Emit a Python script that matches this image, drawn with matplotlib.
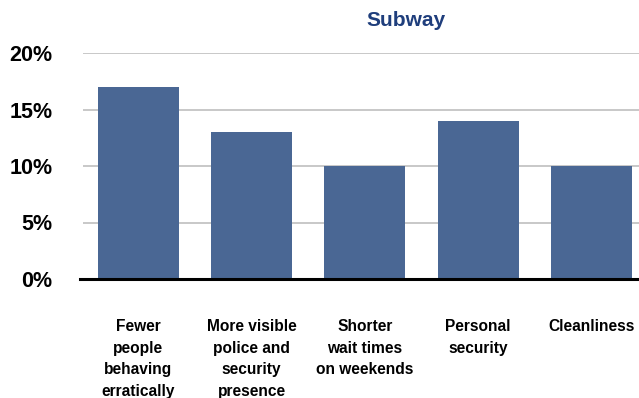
import matplotlib.pyplot as plt

categories = [
    "Fewer\npeople\nbehaving\nerratically",
    "More visible\npolice and\nsecurity\npresence",
    "Shorter\nwait times\non weekends",
    "Personal\nsecurity",
    "Cleanliness",
]
values = [17, 13, 10, 14, 10]
yticks = [0, 5, 10, 15, 20]
ytick_labels = ["0%", "5%", "10%", "15%", "20%"]

plt.rcParams["font.family"] = ["Liberation Sans", "DejaVu Sans"]

fig = plt.figure(figsize=(6.39, 3.98), dpi=100)
ax = fig.add_axes([83 / 639, 1 - 279 / 398, (639 - 83) / 639, (279 - 53) / 398])

x = range(len(values))
ax.bar(x, values, width=0.715, color="#4A6794", zorder=2)

ax.set_xlim(-0.49, 4.42)
ax.set_ylim(0, 20)
ax.set_yticks(yticks)
ax.set_yticklabels(ytick_labels, fontsize=15.5, fontweight="bold")
ax.set_xticks(list(x))
ax.set_xticklabels(categories, fontsize=11.2, fontweight="bold", linespacing=1.55, va="top")
ax.tick_params(axis="y", length=0, pad=22)
ax.tick_params(axis="x", length=0, pad=29)

ax.grid(axis="y", color="#c8c8c8", linewidth=1.4, zorder=0)
ax.set_axisbelow(True)
for side in ["top", "right", "left", "bottom"]:
    ax.spines[side].set_visible(False)
ax.axhline(0, xmin=-0.006, xmax=1, color="black", linewidth=2.2, zorder=3, clip_on=False)

fig.text(406 / 639, 1 - 20 / 398, "Subway", ha="center", va="center",
         fontsize=15, fontweight="bold", color="#1F3E7C")

fig.savefig("out.png", dpi=100)
